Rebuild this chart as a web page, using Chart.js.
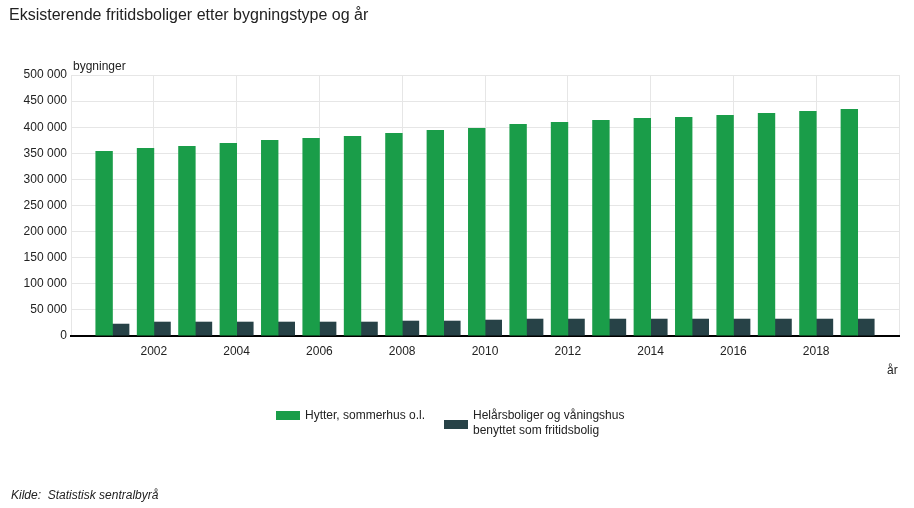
<!DOCTYPE html>
<html>
<head>
<meta charset="utf-8">
<script src="https://cdn.jsdelivr.net/npm/chart.js@4.4.1/dist/chart.umd.min.js"></script>
<style>
  html, body { margin: 0; padding: 0; background: #fff; }
  body { width: 914px; height: 508px; position: relative; overflow: hidden; font-family: Arial, "Liberation Sans", sans-serif; color: #222; }
  #c { position: absolute; left: 0; top: 0; }
  .t { position: absolute; white-space: nowrap; line-height: 16px; }
  .box { position: absolute; width: 24px; height: 9px; }
</style>
</head>
<body>
<canvas id="c" width="914" height="508"></canvas>
<div class="t" style="left:9px; top:7px; font-size:16px;">Eksisterende fritidsboliger etter bygningstype og år</div>
<div class="t" style="left:73px; top:58px; font-size:12px;">bygninger</div>
<div class="t" style="left:887px; top:362px; font-size:12px;">år</div>
<div id="legend"></div>
<div class="t" style="left:11px; top:487px; font-size:12px; font-style:italic;">Kilde:&nbsp; Statistisk sentralbyrå</div>
<script>
const years = [2001,2002,2003,2004,2005,2006,2007,2008,2009,2010,2011,2012,2013,2014,2015,2016,2017,2018,2019];
const hytter = [354500,360200,364000,369800,375500,379400,383200,389000,394700,398500,406100,410000,413800,417600,419500,423400,427200,431000,434800];
const helars = [23500,27400,27400,27400,27400,27400,27400,29300,29300,31200,33100,33100,33100,33100,33100,33100,33100,33100,33100];
const seriesNames = ["Hytter, sommerhus o.l.", "Helårsboliger og våningshus\nbenyttet som fritidsbolig"];
const seriesColors = ["#1a9d49", "#274247"];
const yTicks = [0,50000,100000,150000,200000,250000,300000,350000,400000,450000,500000];

function fmt(v){ return String(v).replace(/\B(?=(\d{3})+(?!\d))/g, ' '); }

const datasets = [hytter, helars].map((vals, i) => ({
  label: seriesNames[i],
  data: years.map((y, k) => ({x: y, y: vals[k]})),
  backgroundColor: seriesColors[i],
  borderWidth: 0,
  inflateAmount: 0,
  categoryPercentage: 0.8,
  barPercentage: 1.05
}));

// HTML legend
const lg = document.getElementById('legend');
const legendPos = [{bx:276, by:411, tx:305, ty:408}, {bx:444, by:420, tx:473, ty:408}];
seriesNames.forEach((n, i) => {
  const p = legendPos[i];
  const b = document.createElement('div');
  b.className = 'box';
  b.style.left = p.bx + 'px'; b.style.top = p.by + 'px'; b.style.background = seriesColors[i];
  lg.appendChild(b);
  const t = document.createElement('div');
  t.className = 't';
  t.style.left = p.tx + 'px'; t.style.top = p.ty + 'px'; t.style.fontSize = '12px'; t.style.lineHeight = '15px';
  t.innerHTML = n.split('\n').join('<br>');
  lg.appendChild(t);
});

new Chart(document.getElementById('c'), {
  type: 'bar',
  data: { datasets },
  options: {
    responsive: false,
    animation: false,
    layout: { padding: { left: 0, right: 15, top: 75, bottom: 132 } },
    plugins: { legend: { display: false }, tooltip: { enabled: false } },
    scales: {
      x: {
        type: 'linear',
        min: 2000, max: 2020,
        offset: false,
        grid: { color: '#e6e6e6', lineWidth: 1, drawTicks: false, offset: false },
        border: { display: true, color: '#000', width: 2 },
        ticks: {
          stepSize: 2,
          padding: 8,
          color: '#222',
          font: { family: 'Arial, "Liberation Sans", sans-serif', size: 12 },
          maxRotation: 0,
          autoSkip: false,
          callback: (v) => (v > 2000 && v < 2020) ? String(v) : ''
        },
        afterFit: (s) => { s.height = 40; }
      },
      y: {
        min: 0, max: 500000,
        afterBuildTicks: (s) => { s.ticks = yTicks.map(v => ({value: v})); },
        grid: { color: '#e6e6e6', lineWidth: 1, drawTicks: false },
        border: { display: false },
        ticks: {
          padding: 4,
          color: '#222',
          font: { family: 'Arial, "Liberation Sans", sans-serif', size: 12 },
          callback: (v) => fmt(v)
        },
        afterFit: (s) => { s.width = 71; }
      }
    }
  }
});
</script>
</body>
</html>
